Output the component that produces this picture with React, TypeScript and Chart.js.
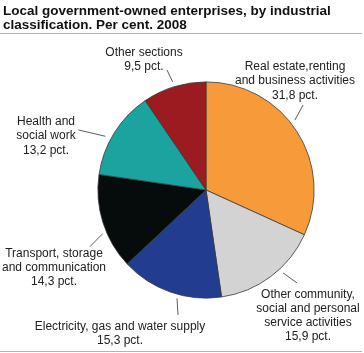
import React, { useEffect, useRef } from 'react';
import { Chart, registerables } from 'chart.js';

Chart.register(...registerables);

const titleLines = [
  'Local government-owned enterprises, by industrial',
  'classification. Per cent. 2008',
];

const categories = [
  'Real estate,renting and business activities',
  'Other community, social and personal service activities',
  'Electricity, gas and water supply',
  'Transport, storage and communication',
  'Health and social work',
  'Other sections',
];

const values = [31.8, 15.9, 15.3, 14.3, 13.2, 9.5];

const valueLabels = ['31,8 pct.', '15,9 pct.', '15,3 pct.', '14,3 pct.', '13,2 pct.', '9,5 pct.'];

const labelLines = [
  ['Real estate,renting', 'and business activities'],
  ['Other community,', 'social and personal', 'service activities'],
  ['Electricity, gas and water supply'],
  ['Transport, storage', 'and communication'],
  ['Health and', 'social work'],
  ['Other sections'],
];

const colors = ['#F79B3A', '#D3D3D3', '#223C8F', '#060B0B', '#1BA39F', '#9B1B20'];

// label layout: text centre x, first baseline y, leader polar (deg from top, clockwise) inner/outer
const labelLayout = [
  { x: 295, y: 70, a1: 51.8, r1: 5, a2: 48.8, r2: 21 },
  { x: 308, y: 297.5, a1: 137.1, r1: 5, a2: 135.6, r2: 22 },
  { x: 120, y: 330, a1: 195, r1: 4, a2: 192.6, r2: 20 },
  { x: 54, y: 256.5, a1: 247.1, r1: 4, a2: 244, r2: 21 },
  { x: 46, y: 125, a1: 298.1, r1: 6, a2: 295.2, r2: 33 },
  { x: 144, y: 56, a1: 342.9, r1: 5, a2: 342, r2: 18 },
];

const LINE_H = 14.3;

const decorPlugin = {
  id: 'decor',
  afterDraw(chart: any) {
    const ctx = chart.ctx as CanvasRenderingContext2D;
    const w = chart.width;
    ctx.save();
    // title
    ctx.fillStyle = '#111';
    ctx.font = 'bold 13.5px "Liberation Sans", Arial, sans-serif';
    ctx.textAlign = 'left';
    ctx.textBaseline = 'alphabetic';
    titleLines.forEach((t, i) => ctx.fillText(t, 3, 15 + i * 13.7));
    // rules
    ctx.strokeStyle = '#b4b4b4';
    ctx.lineWidth = 1;
    ctx.beginPath();
    ctx.moveTo(0, 33.5);
    ctx.lineTo(w - 2, 33.5);
    ctx.moveTo(0, 351.5);
    ctx.lineTo(w - 2, 351.5);
    ctx.stroke();

    // labels
    const meta = chart.getDatasetMeta(0);
    const arc0 = meta.data[0] as any;
    const cx = arc0.x;
    const cy = arc0.y;
    const r = arc0.outerRadius;
    ctx.font = '12px "Liberation Sans", Arial, sans-serif';
    ctx.textAlign = 'center';
    ctx.fillStyle = '#222';
    ctx.strokeStyle = '#333';
    ctx.lineWidth = 0.8;
    categories.forEach((_, i) => {
      const L = labelLayout[i];
      const lines = [...labelLines[i], valueLabels[i]];
      lines.forEach((t, j) => ctx.fillText(t, L.x, L.y + j * LINE_H));
      const a1 = (L.a1 * Math.PI) / 180;
      const a2 = (L.a2 * Math.PI) / 180;
      ctx.beginPath();
      ctx.moveTo(cx + (r + L.r1) * Math.sin(a1), cy - (r + L.r1) * Math.cos(a1));
      ctx.lineTo(cx + (r + L.r2) * Math.sin(a2), cy - (r + L.r2) * Math.cos(a2));
      ctx.stroke();
    });
    ctx.restore();
  },
};

export default function App() {
  const ref = useRef<HTMLCanvasElement | null>(null);
  useEffect(() => {
    if (!ref.current) return;
    const chart = new Chart(ref.current, {
      type: 'pie',
      data: {
        labels: categories,
        datasets: [
          {
            data: values,
            backgroundColor: colors,
            borderColor: '#3a3a3a',
            borderWidth: 0.8,
          },
        ],
      },
      options: {
        responsive: false,
        animation: false,
        layout: { padding: { left: 97.5, right: 49.5, top: 81.5, bottom: 54.5 } },
        plugins: {
          legend: { display: false },
          tooltip: { enabled: false },
          title: { display: false },
        },
      },
      plugins: [decorPlugin],
    });
    return () => chart.destroy();
  }, []);
  return (
    <div style={{ position: 'fixed', left: 0, top: 0, width: 364, height: 353, background: '#fff' }}>
      <canvas ref={ref} width={364} height={353} style={{ display: 'block' }} />
    </div>
  );
}
